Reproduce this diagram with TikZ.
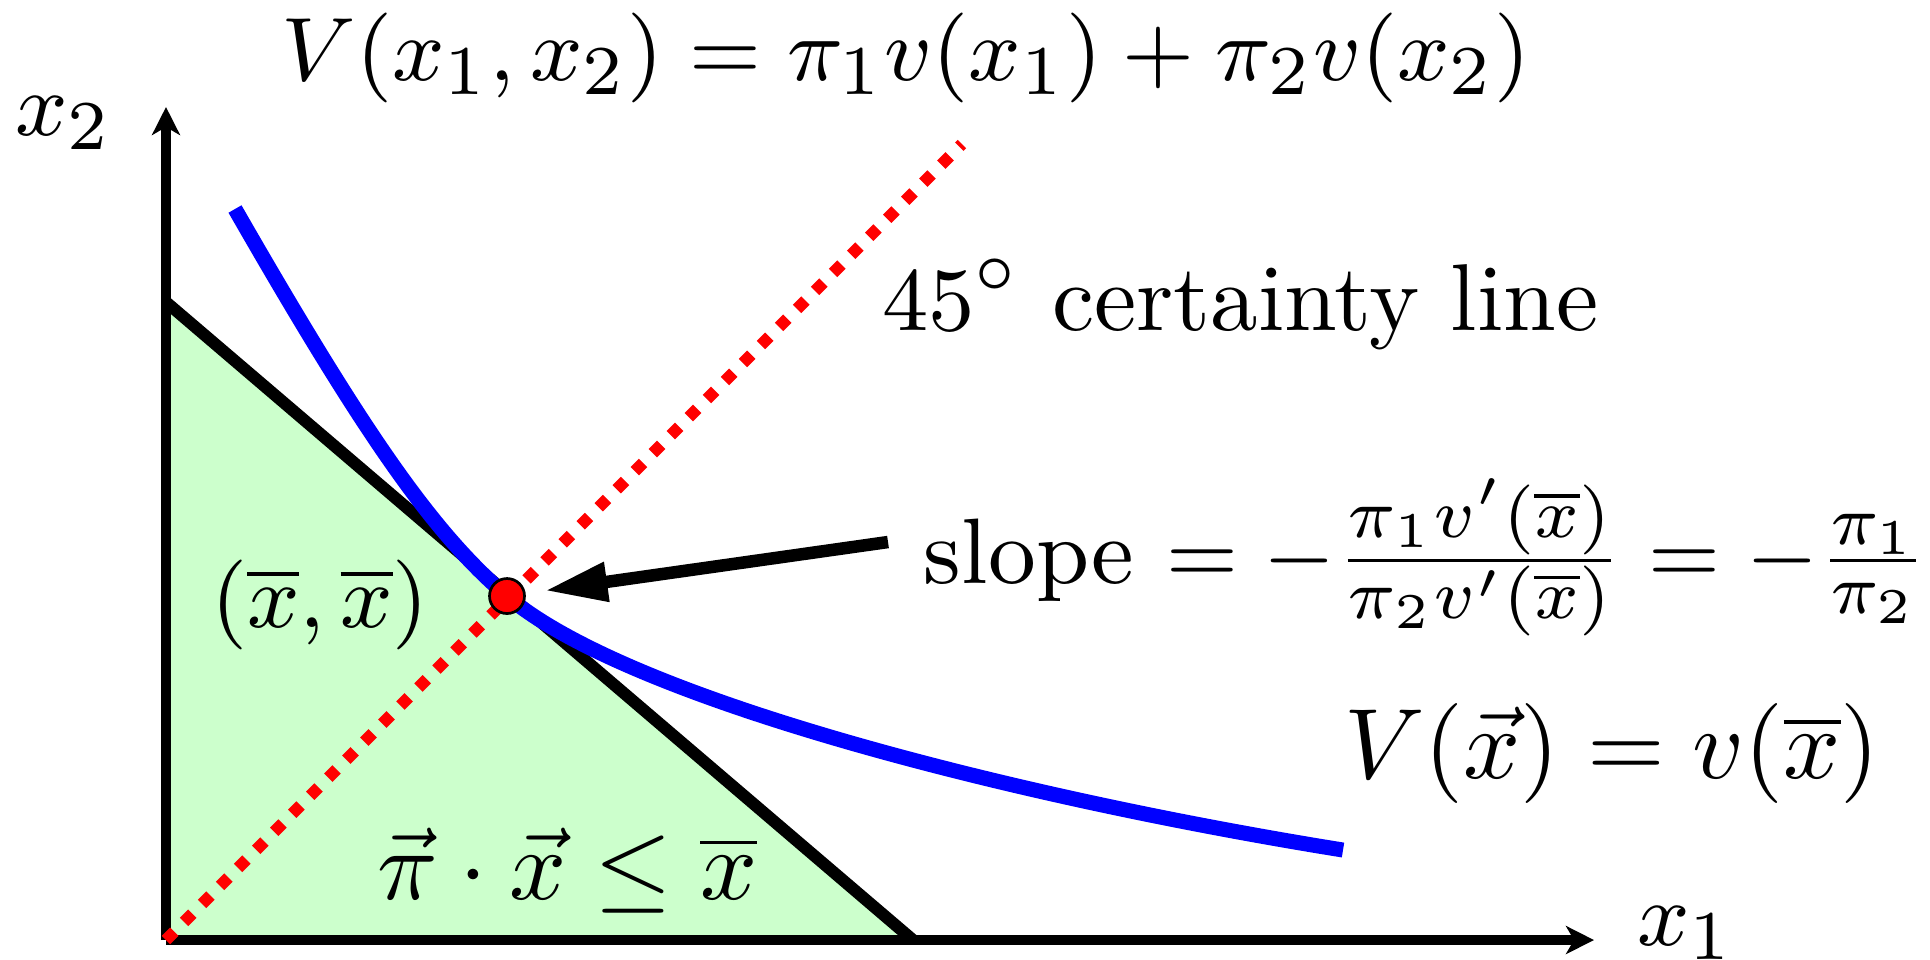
\documentclass[tikz,border=0pt]{standalone}
\usepackage{amsmath,amssymb}
\usetikzlibrary{arrows.meta}
\definecolor{budgetgreen}{HTML}{CCFFCC}
\begin{document}
\begin{tikzpicture}[x=0.1pt,y=-0.1pt,
  axisline/.style={line width=1.0pt,-{Stealth[length=2.8pt,width=2.8pt,inset=0.8pt]}},
  budgetline/.style={line width=1.2pt},
  certainline/.style={red,line width=1.18pt,dash pattern=on 1.18pt off 1.37pt},
  icurve/.style={blue,line width=1.5pt},
  pointer/.style={line width=1.25pt,-{Triangle[length=6.3pt,width=3.7pt]}},
  lbl/.style={inner sep=0pt,font=\fontsize{9.3}{11}\selectfont},
  biglbl/.style={inner sep=0pt,font=\fontsize{9.5}{11.5}\selectfont},
  optdot/.style={circle,fill=red,draw=black,line width=0.27pt,minimum size=3.5pt,inner sep=0pt},
]
\useasboundingbox (0,0) rectangle (1930,959);
\coordinate (O) at (166,940);
\coordinate (ytop) at (166,107);
\coordinate (xend) at (1594,940);
\coordinate (btop) at (166,302);
\coordinate (bbot) at (913,940);
\coordinate (cend) at (962,144);
\coordinate (arrtail) at (888,542);
\coordinate (cstart) at (235,209);
\coordinate (P) at (507,596);
\coordinate (cfin) at (1343,850);

\fill[budgetgreen] (O) -- (btop) -- (bbot) -- cycle;
\draw[budgetline] (btop) -- (bbot);
\draw[axisline] (O) -- (ytop);
\draw[axisline] (O) -- (xend);
\draw[certainline] (O) -- (cend);
\draw[icurve] (cstart) .. controls (365,435.5) and (432.75,532.6) .. (P)
  .. controls (627,698.5) and (1013,797) .. (cfin);
\node[optdot] (dot) at (P) {};
\draw[pointer,shorten >=1.9pt] (arrtail) -- (dot);

\node[biglbl,font=\fontsize{9.45}{11.5}\selectfont,anchor=base] (title) at (906,80) {$V(x_1,x_2) = \pi_1 v(x_1) + \pi_2 v(x_2)$};
\node[biglbl,anchor=base] (xtwo) at (64,135) {$x_2$};
\node[biglbl,anchor=base west] (xone) at (1635,945) {$x_1$};
\node[biglbl,anchor=base west] (cert) at (880,330) {$45^\circ$ certainty line};
\node[lbl,anchor=base east] (slope) at (1930,583) {slope $= -\frac{\pi_1 v'\left(\overline{x}\right)}{\pi_2 v'\left(\overline{x}\right)} = -\frac{\pi_1}{\pi_2}$};
\node[lbl,font=\fontsize{9.4}{11}\selectfont,anchor=base] (pt) at (320,627) {$(\overline{x},\overline{x})$};
\node[lbl,font=\fontsize{9.55}{11.5}\selectfont,anchor=base west] (vlbl) at (1342,778) {$V(\vec{x}) = v(\overline{x})$};
\node[lbl,font=\fontsize{9.6}{11.5}\selectfont,anchor=base west] (budlbl) at (375,899) {$\vec{\pi}\cdot\vec{x} \leq \overline{x}$};
\end{tikzpicture}
\end{document}
